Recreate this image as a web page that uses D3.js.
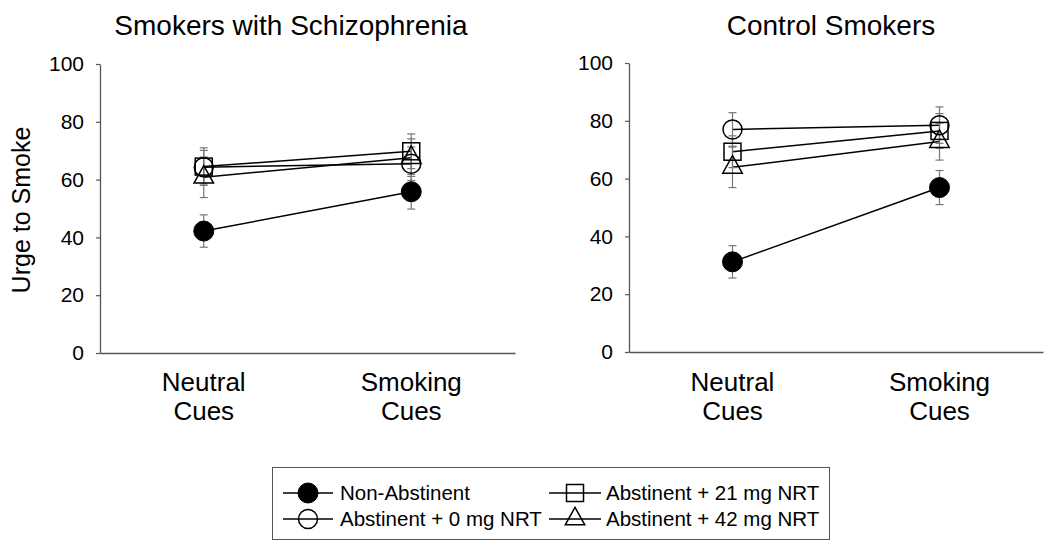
<!DOCTYPE html>
<html>
<head>
<meta charset="utf-8">
<script src="https://cdn.jsdelivr.net/npm/d3@7"></script>
<style>
  html, body { margin: 0; padding: 0; background: #fff; }
  svg { display: block; font-family: Arial, "Liberation Sans", sans-serif; }
</style>
</head>
<body>
<svg id="chart" width="1050" height="543"></svg>
<script>
// ---- data ----
const categories = ["Neutral Cues", "Smoking Cues"];
const seriesNames = ["Non-Abstinent", "Abstinent + 0 mg NRT", "Abstinent + 21 mg NRT", "Abstinent + 42 mg NRT"];
const seriesMarkers = ["filledCircle", "circle", "square", "triangle"];
const yTicks = [0, 20, 40, 60, 80, 100];
const panelTitles = ["Smokers with Schizophrenia", "Control Smokers"];

// Smokers with schizophrenia: means per series [neutral, smoking]
const schizNonAbst = [42.2, 55.8];
const schizAbst0   = [64.3, 65.5];
const schizAbst21  = [64.5, 69.8];
const schizAbst42  = [60.8, 67.6];
// standard errors
const schizNonAbstSE = [5.6, 6.0];
const schizAbst0SE   = [5.8, 5.8];
const schizAbst21SE  = [6.5, 6.0];
const schizAbst42SE  = [7.0, 6.5];

// Control smokers
const ctrlNonAbst = [31.2, 56.9];
const ctrlAbst0   = [77.0, 78.5];
const ctrlAbst21  = [69.3, 76.5];
const ctrlAbst42  = [63.9, 72.8];
const ctrlNonAbstSE = [5.6, 5.9];
const ctrlAbst0SE   = [5.8, 6.3];
const ctrlAbst21SE  = [5.5, 6.0];
const ctrlAbst42SE  = [7.0, 6.4];

// ---- build ----
const panels = [
  { title: panelTitles[0], titleX: 291, x0: 100, x1: 515, yBottom: 353, yTop: 64,
    means: [schizNonAbst, schizAbst0, schizAbst21, schizAbst42],
    se: [schizNonAbstSE, schizAbst0SE, schizAbst21SE, schizAbst42SE] },
  { title: panelTitles[1], titleX: 831, x0: 629, x1: 1043, yBottom: 352, yTop: 63,
    means: [ctrlNonAbst, ctrlAbst0, ctrlAbst21, ctrlAbst42],
    se: [ctrlNonAbstSE, ctrlAbst0SE, ctrlAbst21SE, ctrlAbst42SE] }
];

const svg = d3.select("#chart");
const axisColor = "#555";

function drawMarker(g, type, cx, cy) {
  if (type === "filledCircle") {
    g.append("circle").attr("cx", cx).attr("cy", cy).attr("r", 10)
      .attr("fill", "#000").attr("stroke", "#000").attr("stroke-width", 1);
  } else if (type === "circle") {
    g.append("circle").attr("cx", cx).attr("cy", cy).attr("r", 9.5)
      .attr("fill", "none").attr("stroke", "#000").attr("stroke-width", 1.5);
  } else if (type === "square") {
    const s = 17;
    g.append("rect").attr("x", cx - s / 2).attr("y", cy - s / 2).attr("width", s).attr("height", s)
      .attr("fill", "none").attr("stroke", "#000").attr("stroke-width", 1.5);
  } else if (type === "triangle") {
    const h = 17.5, b = 19.5;
    const pts = [[cx, cy - h * 2 / 3], [cx - b / 2, cy + h / 3], [cx + b / 2, cy + h / 3]];
    g.append("polygon").attr("points", pts.map(p => p.join(",")).join(" "))
      .attr("fill", "none").attr("stroke", "#000").attr("stroke-width", 1.5);
  }
}

panels.forEach(p => {
  const x = d3.scalePoint().domain(categories).range([p.x0, p.x1]).padding(0.5);
  const y = d3.scaleLinear().domain([0, 100]).range([p.yBottom, p.yTop]);
  const g = svg.append("g");

  // y axis
  const ya = g.append("g").attr("transform", `translate(${p.x0},0)`)
    .call(d3.axisLeft(y).tickValues(yTicks).tickSize(4).tickSizeOuter(0).tickPadding(12));
  ya.select(".domain").attr("stroke", axisColor).attr("stroke-width", 1.3);
  ya.selectAll(".tick line").attr("stroke", axisColor).attr("stroke-width", 1.2);
  ya.selectAll(".tick text").attr("font-size", 21).attr("font-family", "Arial, 'Liberation Sans', sans-serif").attr("fill", "#000");

  // x axis
  const xa = g.append("g").attr("transform", `translate(0,${p.yBottom})`)
    .call(d3.axisBottom(x).tickSize(0).tickSizeOuter(0).tickFormat(""));
  xa.select(".domain").attr("stroke", axisColor).attr("stroke-width", 1.3);

  // category labels (two lines)
  categories.forEach(c => {
    const parts = c.split(" ");
    const t = g.append("text").attr("x", x(c)).attr("text-anchor", "middle")
      .attr("font-size", 26).attr("fill", "#000");
    t.append("tspan").attr("x", x(c)).attr("y", 391).text(parts[0]);
    t.append("tspan").attr("x", x(c)).attr("y", 420).text(parts[1]);
  });

  // title
  g.append("text").attr("x", p.titleX).attr("y", 35).attr("text-anchor", "middle")
    .attr("font-size", 28).attr("fill", "#000").text(p.title);

  // lines
  const line = d3.line().x((d, i) => x(categories[i])).y(d => y(d));
  p.means.forEach(m => {
    g.append("path").datum(m).attr("d", line).attr("fill", "none")
      .attr("stroke", "#000").attr("stroke-width", 1.5);
  });

  // error bars
  p.means.forEach((m, si) => {
    m.forEach((v, i) => {
      const cx = x(categories[i]);
      const e = p.se[si][i];
      const eg = g.append("g").attr("stroke", "#777").attr("stroke-width", 1.2);
      eg.append("line").attr("x1", cx).attr("x2", cx).attr("y1", y(v - e)).attr("y2", y(v + e));
      eg.append("line").attr("x1", cx - 4).attr("x2", cx + 4).attr("y1", y(v - e)).attr("y2", y(v - e));
      eg.append("line").attr("x1", cx - 4).attr("x2", cx + 4).attr("y1", y(v + e)).attr("y2", y(v + e));
    });
  });

  // markers (open ones first, filled circle last)
  [1, 2, 3, 0].forEach(si => {
    p.means[si].forEach((v, i) => drawMarker(g, seriesMarkers[si], x(categories[i]), y(v)));
  });
});

// y axis label
svg.append("text").attr("transform", "translate(30,210) rotate(-90)")
  .attr("text-anchor", "middle").attr("font-size", 25).attr("fill", "#000").text("Urge to Smoke");

// legend
const lg = svg.append("g");
lg.append("rect").attr("x", 272.5).attr("y", 467.5).attr("width", 557).attr("height", 72)
  .attr("fill", "#fff").attr("stroke", axisColor).attr("stroke-width", 1);
const legendPos = [
  { lx0: 283, lx1: 333, mx: 308, tx: 340, y: 493 },
  { lx0: 283, lx1: 333, mx: 308, tx: 340, y: 519 },
  { lx0: 549, lx1: 601, mx: 575, tx: 606, y: 493 },
  { lx0: 549, lx1: 601, mx: 575, tx: 606, y: 519 }
];
seriesNames.forEach((name, i) => {
  const lp = legendPos[i];
  lg.append("line").attr("x1", lp.lx0).attr("x2", lp.lx1).attr("y1", lp.y).attr("y2", lp.y)
    .attr("stroke", "#000").attr("stroke-width", 1.5);
  drawMarker(lg, seriesMarkers[i], lp.mx, lp.y);
  lg.append("text").attr("x", lp.tx).attr("y", lp.y + 7).attr("font-size", 20.5).attr("fill", "#000").text(name);
});
</script>
</body>
</html>
